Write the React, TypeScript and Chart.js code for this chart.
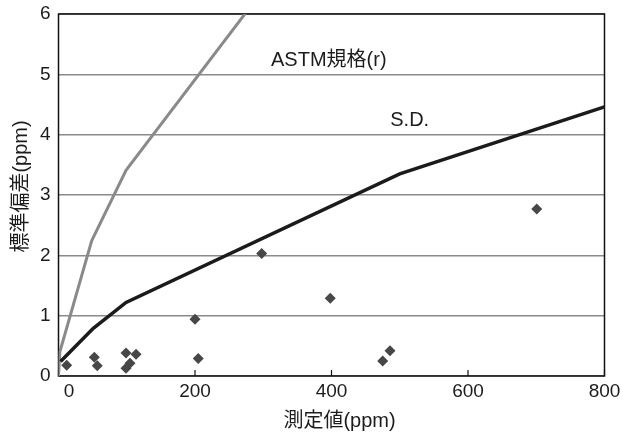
import React, { useEffect, useRef } from "react";
import { Chart, registerables } from "chart.js";

Chart.register(...registerables);

const FONT = "'Liberation Sans', 'Noto Sans CJK JP', Arial, sans-serif";

// Measured points (diamonds)
const measuredX = [12, 52.5, 56.8, 98.9, 113.6, 104.8, 98.9, 200, 204.8, 297.7, 398.2, 475, 485.7, 700.7];
const measuredY = [0.18, 0.31, 0.17, 0.38, 0.36, 0.21, 0.13, 0.94, 0.29, 2.03, 1.29, 0.25, 0.42, 2.77];
// S.D. curve
const sdX = [3, 51, 99, 500, 800];
const sdY = [0.24, 0.79, 1.22, 3.35, 4.46];
// ASTM規格(r) curve
const astmX = [0, 2, 48.6, 98.9, 300];
const astmY = [0, 0.4, 2.24, 3.41, 6.4];

const xTickValues = [0, 200, 400, 600, 800];
const yTickValues = [0, 1, 2, 3, 4, 5, 6];
const xTitle = "測定値(ppm)";
const yTitle = "標準偏差(ppm)";
const seriesLabels = [
  { text: "ASTM規格(r)", x: 396, y: 5.23 },
  { text: "S.D.", x: 514.6, y: 4.23 },
];

const toPoints = (xs: number[], ys: number[]) => xs.map((x, i) => ({ x, y: ys[i] }));

export default function App() {
  const ref = useRef<HTMLCanvasElement | null>(null);

  useEffect(() => {
    if (!ref.current) return;
    const textColor = "#1c1c1c";

    const decor = {
      id: "decor",
      beforeDatasetsDraw(chart: any) {
        const { ctx, chartArea: a } = chart;
        ctx.save();
        ctx.strokeStyle = "#111";
        ctx.lineWidth = 1.5;
        ctx.strokeRect(a.left, a.top, a.right - a.left, a.bottom - a.top);
        // inward tick marks on x axis
        const xs = chart.scales.x;
        ctx.lineWidth = 1.2;
        xTickValues.forEach((v) => {
          const px = xs.getPixelForValue(v);
          ctx.beginPath();
          ctx.moveTo(px, a.bottom);
          ctx.lineTo(px, a.bottom - 6);
          ctx.stroke();
        });
        ctx.restore();
      },
      afterDraw(chart: any) {
        const { ctx, chartArea: a, scales } = chart;
        ctx.save();
        ctx.fillStyle = textColor;
        ctx.textAlign = "center";
        ctx.textBaseline = "middle";
        ctx.font = `20px ${FONT}`;
        seriesLabels.forEach((l) => {
          ctx.fillText(l.text, scales.x.getPixelForValue(l.x), scales.y.getPixelForValue(l.y));
        });
        // axis titles
        ctx.fillText(xTitle, (a.left + a.right) / 2 + 8, 421);
        ctx.translate(21, (a.top + a.bottom) / 2 - 8.5);
        ctx.rotate(-Math.PI / 2);
        ctx.fillText(yTitle, 0, 0);
        ctx.restore();
      },
    };

    const chart = new Chart(ref.current, {
      type: "scatter",
      data: {
        datasets: [
          {
            label: "測定値",
            data: toPoints(measuredX, measuredY),
            pointStyle: "rectRot",
            pointRadius: 5.5,
            backgroundColor: "#474747",
            borderColor: "#474747",
            borderWidth: 0,
            showLine: false,
          },
          {
            label: "S.D.",
            data: toPoints(sdX, sdY),
            showLine: true,
            borderColor: "#1b1b1b",
            borderWidth: 3.5,
            pointRadius: 0,
            tension: 0,
            clip: 0,
          } as any,
          {
            label: "ASTM規格(r)",
            data: toPoints(astmX, astmY),
            showLine: true,
            borderColor: "#8a8a8a",
            borderWidth: 3,
            pointRadius: 0,
            tension: 0,
            clip: 0,
          } as any,
        ],
      },
      options: {
        animation: false,
        responsive: true,
        maintainAspectRatio: false,
        layout: { padding: { top: 14, right: 18.5, left: 0, bottom: 0 } },
        plugins: { legend: { display: false }, tooltip: { enabled: false } },
        scales: {
          x: {
            type: "linear",
            min: 0,
            max: 800,
            afterFit: (s: any) => {
              s.height = 60;
              s.paddingLeft = 0;
              s.paddingRight = 0;
            },
            afterBuildTicks: (s: any) => {
              s.ticks = xTickValues.map((v) => ({ value: v }));
            },
            ticks: {
              padding: 4,
              color: textColor,
              font: { family: FONT, size: 19 },
              maxRotation: 0,
              autoSkip: false,
              callback: (v: any) => (Number(v) === 0 ? "    0" : String(v)),
            },
            grid: { display: false, drawTicks: false },
            border: { display: false },
          },
          y: {
            type: "linear",
            min: 0,
            max: 6,
            afterFit: (s: any) => {
              s.width = 58.5;
              s.paddingTop = 0;
              s.paddingBottom = 0;
            },
            afterBuildTicks: (s: any) => {
              s.ticks = yTickValues.map((v) => ({ value: v }));
            },
            ticks: {
              padding: 8,
              color: textColor,
              font: { family: FONT, size: 19 },
              callback: (v: any) => String(v),
            },
            grid: {
              drawTicks: false,
              color: "#8a8a8a",
              lineWidth: 1.5,
            },
            border: { display: false },
          },
        },
      },
      plugins: [decor],
    });
    return () => chart.destroy();
  }, []);

  return (
    <div style={{ position: "fixed", left: 0, top: 0, width: 623, height: 436, background: "#fff" }}>
      <canvas ref={ref} />
    </div>
  );
}
